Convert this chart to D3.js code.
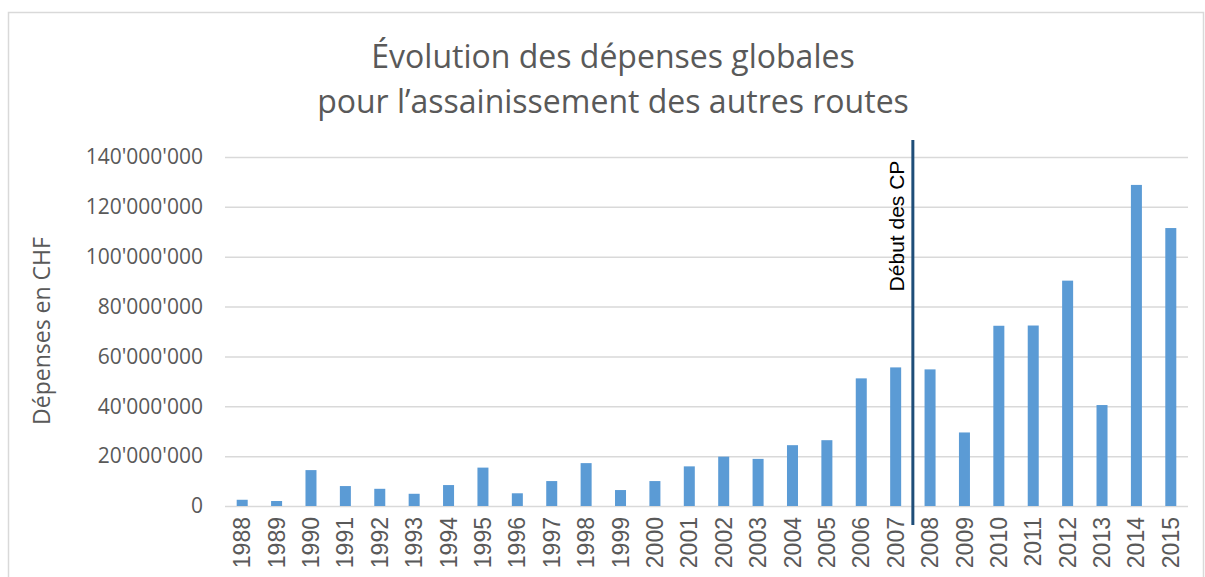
<!DOCTYPE html>
<html><head><meta charset="utf-8">
<script src="https://cdn.jsdelivr.net/npm/d3@7"></script>
<style>body{margin:0;background:#fff}svg{display:block}</style>
</head><body>
<svg id="c" width="1205" height="577"></svg>
<script>
const years = ["1988","1989","1990","1991","1992","1993","1994","1995","1996","1997","1998","1999","2000","2001","2002","2003","2004","2005","2006","2007","2008","2009","2010","2011","2012","2013","2014","2015"];
const depenses = [2500000,2000000,14400000,8000000,6900000,4900000,8400000,15400000,5100000,10000000,17200000,6400000,10000000,15900000,19800000,18900000,24400000,26400000,51200000,55600000,54800000,29500000,72300000,72400000,90400000,40500000,128800000,111500000];
const yTicks = [0,20000000,40000000,60000000,80000000,100000000,120000000,140000000];
const titleLines = ["Évolution des dépenses globales","pour l’assainissement des autres routes"];
const markerAfter = "2007";
const markerLabel = "Début des CP";

const svg = d3.select("#c");
svg.append("rect").attr("x",8.5).attr("y",12.5).attr("width",1195).attr("height",620)
  .attr("fill","#fff").attr("stroke","#d9d9d9").attr("stroke-width",1.5);

const L=225,R=1188,T=157,B=506;
const x = d3.scaleBand().domain(years).range([L,R]).paddingInner(0.68).paddingOuter(0.34);
const y = d3.scaleLinear().domain([0,140000000]).range([B,T]);
const fmt = v => d3.format(",")(v).replace(/,/g,"'");

const gy = svg.append("g").attr("transform",`translate(${L},0)`)
  .call(d3.axisLeft(y).tickValues(yTicks).tickSize(-(R-L)).tickPadding(22).tickFormat(fmt));
gy.select(".domain").remove();
gy.selectAll(".tick line").attr("stroke","#d9d9d9").attr("stroke-width",1.5);
gy.selectAll(".tick text").attr("fill","#595959").style("font-family","'Open Sans',sans-serif").style("font-size","21px");

svg.append("g").selectAll("rect").data(years).join("rect")
  .attr("x",d=>x(d)).attr("width",x.bandwidth())
  .attr("y",(d,i)=>y(depenses[i])).attr("height",(d,i)=>B-y(depenses[i]))
  .attr("fill","#5b9bd5");

const gx = svg.append("g").attr("transform",`translate(0,${B})`)
  .call(d3.axisBottom(x).tickSize(0).tickPadding(0));
gx.select(".domain").remove();
gx.selectAll(".tick text").attr("fill","#595959").style("font-family","'Liberation Sans',Arial,sans-serif").style("font-size","23px")
  .attr("text-anchor","end").attr("dy","0.35em").attr("transform","translate(0,11) rotate(-90)").attr("x",0).attr("y",0);

// marker line
const mx = x(markerAfter) + x.bandwidth() + x.step()*x.paddingInner()/2;
svg.append("line").attr("x1",mx).attr("x2",mx).attr("y1",140).attr("y2",525)
  .attr("stroke","#1f4e79").attr("stroke-width",3);
svg.append("text").attr("transform",`translate(${mx-9},226) rotate(-90)`)
  .attr("text-anchor","middle").style("font-family","'Liberation Sans',Arial,sans-serif").style("font-size","21px")
  .attr("fill","#000").text(markerLabel);

// titles
svg.append("text").attr("x",613).attr("y",68).attr("text-anchor","middle").attr("fill","#595959")
  .style("font-family","'Open Sans',sans-serif").style("font-size","32px").text(titleLines[0]);
svg.append("text").attr("x",613).attr("y",113).attr("text-anchor","middle").attr("fill","#595959")
  .style("font-family","'Open Sans',sans-serif").style("font-size","32px").text(titleLines[1]);

svg.append("text").attr("transform","translate(50,331) rotate(-90)").attr("text-anchor","middle").attr("fill","#595959")
  .style("font-family","'Open Sans',sans-serif").style("font-size","23px").text("Dépenses en CHF");
</script>
</body></html>
